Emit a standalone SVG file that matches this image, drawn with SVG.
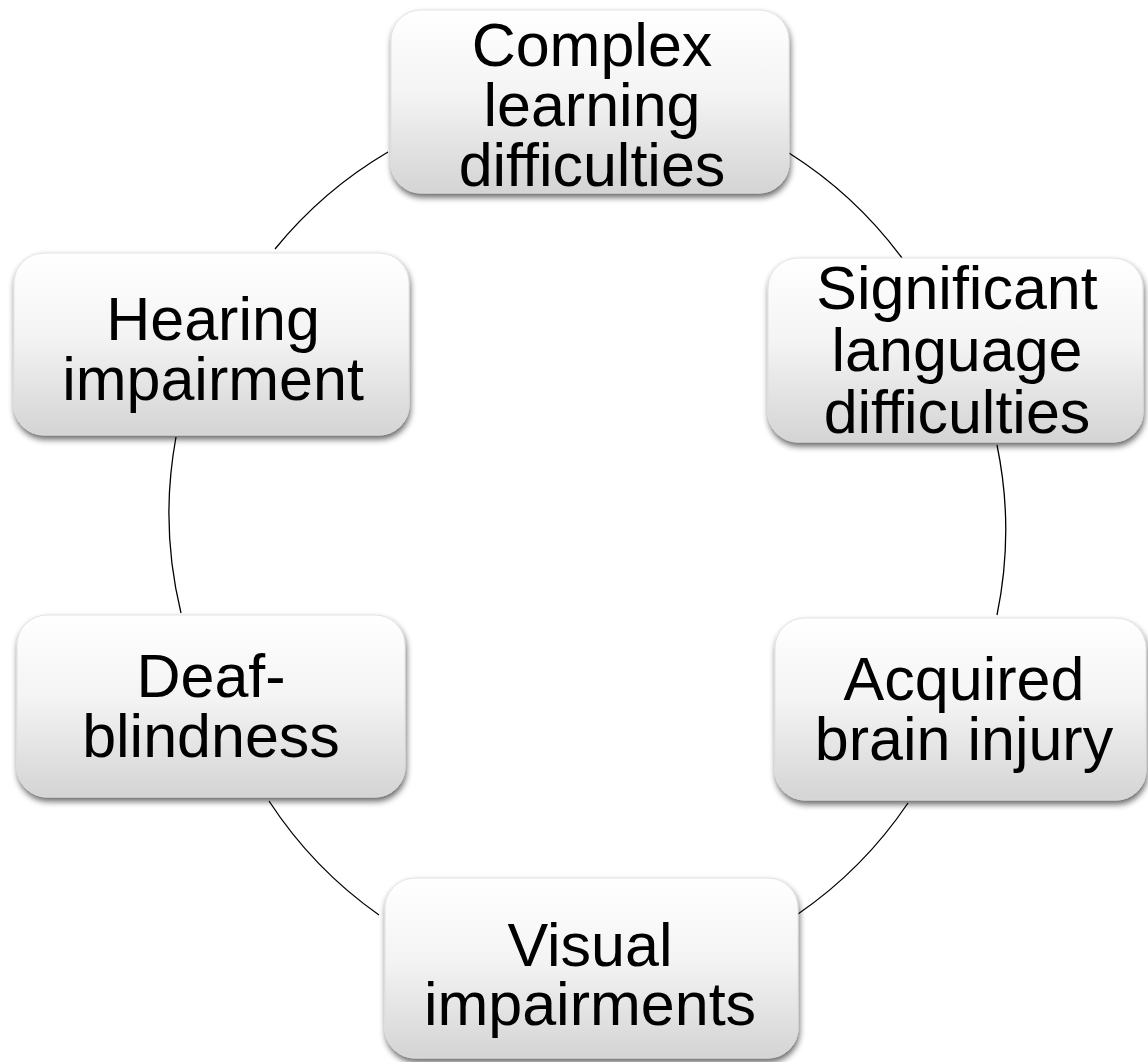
<svg xmlns="http://www.w3.org/2000/svg" width="1148" height="1062" viewBox="0 0 1148 1062">
<defs>
<linearGradient id="g" x1="0" y1="0" x2="0" y2="1">
<stop offset="0" stop-color="#ffffff"/>
<stop offset="0.45" stop-color="#f4f4f4"/>
<stop offset="1" stop-color="#d4d4d4"/>
</linearGradient>
<filter id="sh" x="-10%" y="-10%" width="120%" height="125%">
<feGaussianBlur in="SourceAlpha" stdDeviation="3"/>
<feOffset dx="1" dy="4" result="b"/>
<feComponentTransfer><feFuncA type="linear" slope="0.6"/></feComponentTransfer>
<feMerge><feMergeNode/><feMergeNode in="SourceGraphic"/></feMerge>
</filter>
</defs>
<style>
.box{fill:url(#g);stroke:#dcdcdc;stroke-width:0.8;filter:url(#sh)}
.t{font-family:"Liberation Sans",Arial,sans-serif;font-size:61px;fill:#000;text-anchor:middle}
.arc{fill:none;stroke:#000;stroke-width:1.3}
</style>
<g id="connectors">
<path class="arc" d="M789,153 A420,420 0 0 1 902,258"/>
<path class="arc" d="M997,445 A420,420 0 0 1 997,615"/>
<path class="arc" d="M908,803 A420,420 0 0 1 798,914"/>
<path class="arc" d="M379,915 A420,420 0 0 1 269,801"/>
<path class="arc" d="M181,613 A420,420 0 0 1 176,437"/>
<path class="arc" d="M275,249 A420,420 0 0 1 388,152"/>
</g>
<g id="node-complex">
<rect class="box" x="391" y="10" width="398" height="183" rx="30"/>
<text class="t"><tspan x="592" y="66">Complex</tspan><tspan x="592" y="126">learning</tspan><tspan x="592" y="186">difficulties</tspan></text>
</g>
<g id="node-significant">
<rect class="box" x="768" y="258" width="375" height="184" rx="30"/>
<text class="t"><tspan x="957" y="309">Significant</tspan><tspan x="957" y="371">language</tspan><tspan x="957" y="433">difficulties</tspan></text>
</g>
<g id="node-acquired">
<rect class="box" x="775" y="618" width="371" height="182" rx="30"/>
<text class="t"><tspan x="964" y="700">Acquired</tspan><tspan x="964" y="760">brain injury</tspan></text>
</g>
<g id="node-visual">
<rect class="box" x="385" y="878" width="413" height="180" rx="30"/>
<text class="t"><tspan x="590" y="966">Visual</tspan><tspan x="590" y="1025">impairments</tspan></text>
</g>
<g id="node-deaf">
<rect class="box" x="17" y="615" width="388" height="182" rx="30"/>
<text class="t"><tspan x="211" y="697">Deaf-</tspan><tspan x="211" y="757">blindness</tspan></text>
</g>
<g id="node-hearing">
<rect class="box" x="14" y="253" width="395" height="182" rx="30"/>
<text class="t"><tspan x="213" y="340">Hearing</tspan><tspan x="213" y="400">impairment</tspan></text>
</g>
</svg>
